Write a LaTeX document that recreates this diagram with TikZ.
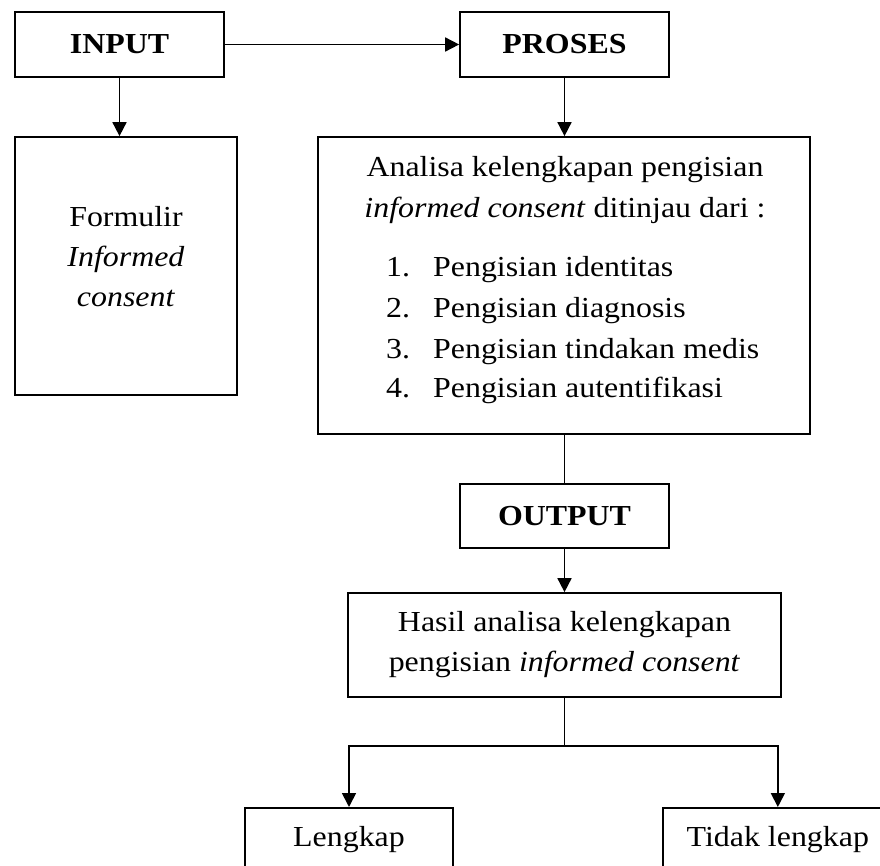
\documentclass[tikz,border=0pt]{standalone}
\usepackage{fontspec}
\setmainfont{Liberation Serif}[FakeStretch=1.1]
\usetikzlibrary{arrows.meta}
\tikzset{
    kotak/.style={draw, line width=1.7pt, inner sep=0pt},
    teks/.style={font=\fontsize{29}{40}\selectfont, inner sep=0pt},
    panah/.style={line width=1.7pt, -{Triangle[length=14pt,width=14pt]}},
    garis/.style={line width=1.7pt},
}

\begin{document}
\begin{tikzpicture}[x=1pt,y=-1pt]
    \useasboundingbox (0,0) rectangle (880,866);
    \clip (0,0) rectangle (880,866);
    % baris atas
    \node[kotak, teks, minimum width=209, minimum height=65] (input) at (119.5,44.5) {\bfseries INPUT};
    \node[kotak, teks, minimum width=209, minimum height=65] (proses) at (564.5,44.5) {\bfseries PROSES};
    % formulir
    \node[kotak, minimum width=222, minimum height=258] (formulir) at (126,266) {};
    \node[teks, align=center] (formulirteks) at (126,257) {Formulir\\ \textit{Informed}\\ \textit{consent}};
    % analisa
    \node[kotak, minimum width=492, minimum height=297] (analisa) at (564,285.5) {};
    \node[teks, anchor=base] (analisa1) at (565,177) {Analisa kelengkapan pengisian};
    \node[teks, anchor=base] (analisa2) at (565,218) {\textit{informed consent} ditinjau dari :};
    \node[teks, anchor=base west] (butir1) at (386,277) {\makebox[47pt][l]{1.}Pengisian identitas};
    \node[teks, anchor=base west] (butir2) at (386,317) {\makebox[47pt][l]{2.}Pengisian diagnosis};
    \node[teks, anchor=base west] (butir3) at (386,358) {\makebox[47pt][l]{3.}Pengisian tindakan medis};
    \node[teks, anchor=base west] (butir4) at (386,397) {\makebox[47pt][l]{4.}Pengisian autentifikasi};
    % output
    \node[kotak, teks, minimum width=209, minimum height=64] (output) at (564.5,516) {\bfseries OUTPUT};
    \node[kotak, teks, align=center, minimum width=433, minimum height=104] (hasil) at (564.5,645) {Hasil analisa kelengkapan\\ pengisian \textit{informed consent}};
    \node[kotak, teks, minimum width=208, minimum height=64, anchor=north] (lengkap) at (349,807) {Lengkap};
    \node[kotak, teks, minimum width=230, minimum height=64, anchor=north west] (tidak) at (662,807) {Tidak lengkap};
    \coordinate (cabang) at (564.5,746);
    % panah
    \draw[panah] (input) -- (proses);
    \draw[panah] (input.south) -- (input.south |- formulir.north);
    \draw[panah] (proses.south) -- (proses.south |- analisa.north);
    \draw[garis] (analisa.south -| output) -- (output.north);
    \draw[panah] (output) -- (hasil);
    \draw[garis] (hasil.south) -- (cabang);
    \draw[panah] (cabang) -| (lengkap.north);
    \draw[panah] (cabang) -| (tidak.north);
\end{tikzpicture}
\end{document}
